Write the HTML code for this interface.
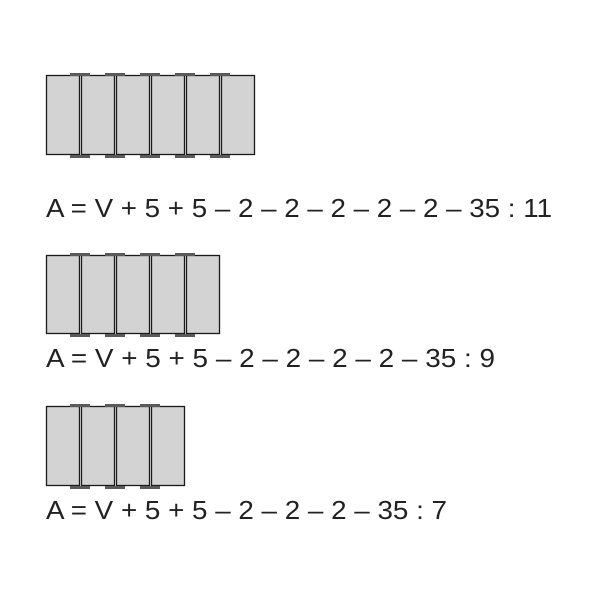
<!DOCTYPE html>
<html><head><style>body{margin:0;background:#fff}</style></head><body>
<svg width="600" height="600" xmlns="http://www.w3.org/2000/svg">
<g stroke="#1a1a1a" stroke-width="1.3" fill="#d3d3d3">
<rect x="46.5" y="75.5" width="33" height="79"/><rect x="81.5" y="75.5" width="33" height="79"/><rect x="116.5" y="75.5" width="33" height="79"/><rect x="151.5" y="75.5" width="33" height="79"/><rect x="186.5" y="75.5" width="33" height="79"/><rect x="221.5" y="75.5" width="33" height="79"/>
<rect x="46.5" y="255.5" width="33" height="78"/><rect x="81.5" y="255.5" width="33" height="78"/><rect x="116.5" y="255.5" width="33" height="78"/><rect x="151.5" y="255.5" width="33" height="78"/><rect x="186.5" y="255.5" width="33" height="78"/>
<rect x="46.5" y="406.5" width="33" height="79"/><rect x="81.5" y="406.5" width="33" height="79"/><rect x="116.5" y="406.5" width="33" height="79"/><rect x="151.5" y="406.5" width="33" height="79"/>
</g>
<g fill="#5a5a5a">
<rect x="70" y="73" width="20" height="3"/><rect x="105" y="73" width="20" height="3"/><rect x="140" y="73" width="20" height="3"/><rect x="175" y="73" width="20" height="3"/><rect x="210" y="73" width="20" height="3"/>
<rect x="70" y="155" width="20" height="3"/><rect x="105" y="155" width="20" height="3"/><rect x="140" y="155" width="20" height="3"/><rect x="175" y="155" width="20" height="3"/><rect x="210" y="155" width="20" height="3"/>
<rect x="70" y="253" width="20" height="3"/><rect x="105" y="253" width="20" height="3"/><rect x="140" y="253" width="20" height="3"/><rect x="175" y="253" width="20" height="3"/>
<rect x="70" y="334" width="20" height="3"/><rect x="105" y="334" width="20" height="3"/><rect x="140" y="334" width="20" height="3"/><rect x="175" y="334" width="20" height="3"/>
<rect x="70" y="404" width="20" height="3"/><rect x="105" y="404" width="20" height="3"/><rect x="140" y="404" width="20" height="3"/>
<rect x="70" y="486" width="20" height="3"/><rect x="105" y="486" width="20" height="3"/><rect x="140" y="486" width="20" height="3"/>
</g>
<g font-family="Liberation Sans, sans-serif" font-size="26" fill="#222">
<text x="46" y="217" textLength="506" lengthAdjust="spacingAndGlyphs">A = V + 5 + 5 – 2 – 2 – 2 – 2 – 2 – 35 : 11</text>
<text x="46" y="367" textLength="449" lengthAdjust="spacingAndGlyphs">A = V + 5 + 5 – 2 – 2 – 2 – 2 – 35 : 9</text>
<text x="46" y="519" textLength="401" lengthAdjust="spacingAndGlyphs">A = V + 5 + 5 – 2 – 2 – 2 – 35 : 7</text>
</g>
</svg>
</body></html>
